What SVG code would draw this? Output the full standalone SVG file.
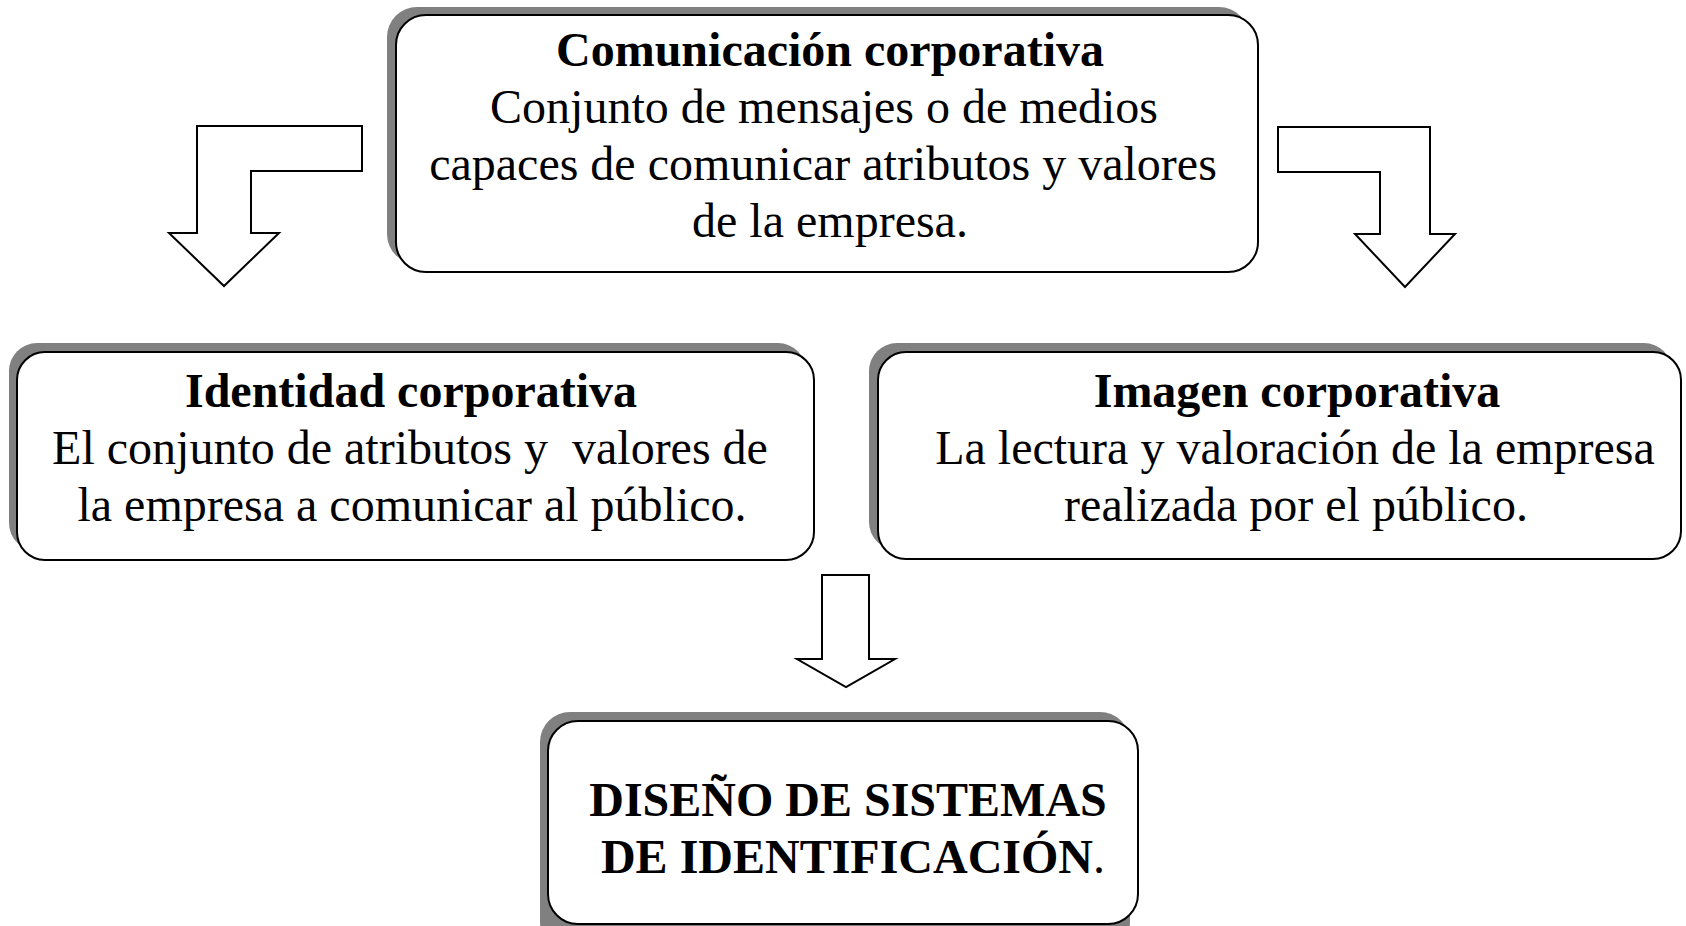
<svg xmlns="http://www.w3.org/2000/svg" width="1686" height="926" viewBox="0 0 1686 926">
<style>
.shadow{fill:#808080;stroke:none}
.box{fill:#fff;stroke:#000;stroke-width:2}
.arrow{fill:#fff;stroke:#000;stroke-width:2;stroke-linejoin:miter}
text{font-family:"Liberation Serif","Times New Roman",serif;font-size:48px;fill:#000;text-anchor:middle}
.b{font-weight:bold}
.n{font-weight:normal}
</style>
<rect width="1686" height="926" fill="#fff"/>
<g id="connectors">
<path class="arrow" d="M362,126 L197,126 L197,233 L169,233 L224,286 L279,233 L251,233 L251,171 L362,171 Z"/>
<path class="arrow" d="M1278,127 L1430,127 L1430,234 L1455,234 L1405,287 L1355,234 L1380,234 L1380,172 L1278,172 Z"/>
<path class="arrow" d="M822,575 L869,575 L869,659 L895,659 L846,687 L797,659 L822,659 Z"/>
</g>
<g id="comunicacion">
<rect class="shadow" x="387" y="7" width="862" height="257" rx="30"/>
<rect class="box" x="396" y="15" width="862" height="257" rx="30"/>
<text x="830" y="66" class="b">Comunicación corporativa</text>
<text x="824" y="123">Conjunto de mensajes o de medios</text>
<text x="823" y="180">capaces de comunicar atributos y valores</text>
<text x="830" y="237">de la empresa.</text>
</g>
<g id="identidad">
<rect class="shadow" x="9" y="343" width="797" height="208" rx="28"/>
<rect class="box" x="17" y="352" width="797" height="208" rx="28"/>
<text x="411" y="407" class="b">Identidad corporativa</text>
<text x="410" y="464" xml:space="preserve">El conjunto de atributos y  valores de</text>
<text x="412" y="521">la empresa a comunicar al público.</text>
</g>
<g id="imagen">
<rect class="shadow" x="869" y="343" width="803" height="207" rx="28"/>
<rect class="box" x="878" y="352" width="803" height="207" rx="28"/>
<text x="1297" y="407" class="b">Imagen corporativa</text>
<text x="1295" y="464">La lectura y valoración de la empresa</text>
<text x="1296" y="521">realizada por el público.</text>
</g>
<g id="diseno">
<rect class="shadow" x="540" y="712" width="590" height="240" rx="30"/>
<rect class="box" x="548" y="721" width="590" height="203" rx="30"/>
<text x="848" y="816" class="b">DISEÑO DE SISTEMAS</text>
<text x="853" y="873" class="b">DE IDENTIFICACIÓN<tspan class="n">.</tspan></text>
</g>
</svg>
